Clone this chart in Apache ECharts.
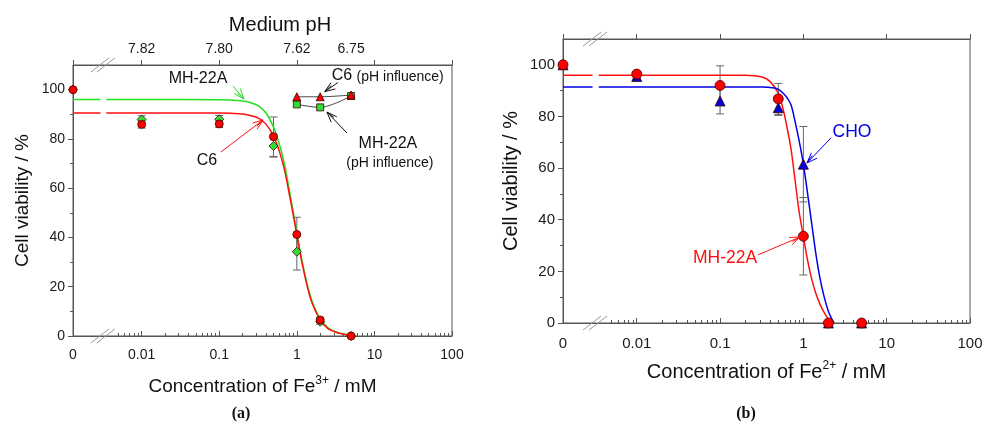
<!DOCTYPE html>
<html><head><meta charset="utf-8">
<script src="https://cdn.jsdelivr.net/npm/echarts@6/dist/echarts.min.js"></script>
<style>html,body{margin:0;padding:0;background:#fff}#c{width:991px;height:427px}</style>
</head><body><div id="c"></div>
<script>
// ---------------- data ----------------
const conc = [0, 0.01, 0.1, 0.5, 1, 2, 5];
// panel (a): Fe3+
const c6Fe3 = [100, 85.9, 86.1, 80.9, 41.2, 6.5, 0];
const c6Fe3Sd = [0, 1.5, 1.5, 8, 7, 1, 0.5];
const mhFe3 = [100, 87.9, 88.0, 77.1, 34.2, 5.8, 0];
const mhFe3Sd = [0, 1.5, 1.5, 4.5, 7.4, 1, 0.5];
const phConc = [1, 2, 5];
const c6Ph = [97.1, 97.1, 97.8];
const mhPh = [94.0, 92.8, 97.4];
// fitted curves
const fitConcA = [0.0035, 0.01, 0.1, 0.2, 0.25, 0.32, 0.4, 0.5, 0.56, 0.63, 0.71, 0.79, 0.89, 1, 1.12, 1.26, 1.41, 1.58, 2, 2.5, 3.2, 4, 5];
const fitC6A = [90.5, 90.5, 90.5, 90.1, 89.5, 88.4, 86.0, 81.3, 77.4, 72.4, 66.0, 58.4, 49.9, 41.0, 32.4, 24.7, 18.3, 13.2, 6.5, 3.1, 1.5, 0.7, 0.3];
const fitMhA = [96, 96, 95.9, 95.4, 94.8, 93.4, 90.5, 84.9, 80.6, 75.1, 68.2, 60.1, 51.2, 42.1, 33.4, 25.6, 19.1, 13.9, 7.0, 3.4, 1.6, 0.8, 0.4];
// panel (b): Fe2+
const mhFe2 = [100, 96.4, 92.0, 86.8, 33.6, 0, 0];
const mhFe2Sd = [0, 1, 7.6, 6, 15, 0.5, 0.8];
const choFe2 = [100, 95.5, 86.0, 83.4, 61.5, 0, 0];
const choFe2Sd = [0, 1, 5, 3, 14.6, 0.5, 0.5];
const fitConcMhB = [0.0035, 0.01, 0.1, 0.2, 0.32, 0.4, 0.5, 0.56, 0.63, 0.71, 0.79, 0.89, 1, 1.12, 1.26, 1.41, 1.58, 1.78, 2, 2.14];
const fitMhB = [96, 96, 96, 96, 95.3, 93.5, 89, 84, 76.5, 67.5, 56, 43, 33.5, 24.5, 17, 11.5, 7.3, 4, 1.4, 0];
const fitConcChoB = [0.0035, 0.01, 0.1, 0.32, 0.45, 0.5, 0.56, 0.63, 0.71, 0.79, 0.89, 1, 1.12, 1.26, 1.41, 1.58, 1.78, 2, 2.24, 2.34];
const fitChoB = [91.4, 91.4, 91.4, 91.4, 91, 90.5, 89.3, 87.5, 84.5, 78.5, 70.5, 61.5, 50.5, 38.5, 27, 17.5, 10, 4.5, 1, 0];
// ticks
const xTickConc = [0, 0.01, 0.1, 1, 10, 100];
const xTickLabels = ['0', '0.01', '0.1', '1', '10', '100'];
const phTickConc = [0.01, 0.1, 1, 5];
const phTickLabels = ['7.82', '7.80', '7.62', '6.75'];
const yTicks = [0, 20, 40, 60, 80, 100];
const yMinorTicks = [10, 30, 50, 70, 90];

// ---------------- helpers ----------------
const X0 = -2.885;            // axis position used for concentration 0
const BREAK_X = -2.5;         // axis break position
const GAP = [-2.53, -2.46];
const FONT = "'Liberation Sans', Arial, sans-serif";
const lg = c => c === 0 ? X0 : Math.log10(c);
const near = (a, b) => Math.abs(a - b) < 1e-6;
const minorConc = [];
for (let d = -3; d <= 1; d++) for (let k = 2; k <= 9; k++) {
  const v = k * Math.pow(10, d); if (v >= 0.005 && v < 100) minorConc.push(v);
}
function curve(cs, vs) {
  const top = vs[0];
  const arr = [[X0, top], [GAP[0], top], [BREAK_X, '-']];
  cs.forEach((c, i) => arr.push([lg(c), vs[i]]));
  return arr;
}
function pts(cs, vs) { return cs.map((c, i) => [lg(c), vs[i]]); }
function errData(cs, vs, sd) {
  return cs.map((c, i) => [lg(c), vs[i] - sd[i], vs[i] + sd[i]]).filter((d, i) => sd[i] > 0);
}
function errSeries(xi, yi, data) {
  return {
    type: 'custom', xAxisIndex: xi, yAxisIndex: yi, z: 1, silent: true,
    encode: { x: 0, y: [1, 2] }, data: data,
    renderItem: function (params, api) {
      const x = api.value(0);
      const a = api.coord([x, api.value(1)]), b = api.coord([x, api.value(2)]);
      const w = 4, st = { stroke: '#666', lineWidth: 1 };
      return { type: 'group', children: [
        { type: 'line', shape: { x1: a[0], y1: a[1], x2: b[0], y2: b[1] }, style: st },
        { type: 'line', shape: { x1: a[0] - w, y1: a[1], x2: a[0] + w, y2: a[1] }, style: st },
        { type: 'line', shape: { x1: b[0] - w, y1: b[1], x2: b[0] + w, y2: b[1] }, style: st }
      ] };
    }
  };
}
const axisCol = '#555';
function xMajor(grid, fs, margin, name, nameGap, nameSize) {
  return {
    type: 'value', gridIndex: grid, position: 'bottom', min: X0, max: 2,
    axisLine: { show: true, onZero: false, lineStyle: { color: axisCol } },
    axisTick: { show: true, inside: true, length: 5, lineStyle: { color: axisCol }, customValues: xTickConc.map(lg) },
    axisLabel: { show: true, color: '#1a1a1a', fontSize: fs, fontFamily: FONT, margin: margin, showMinLabel: true, showMaxLabel: true,
      customValues: xTickConc.map(lg),
      formatter: v => { const i = xTickConc.findIndex(c => near(lg(c), v)); return i >= 0 ? xTickLabels[i] : ''; } },
    splitLine: { show: false },
    name: name, nameLocation: 'middle', nameGap: nameGap,
    nameTextStyle: { color: '#111', fontSize: nameSize, fontFamily: FONT, lineHeight: 24,
      rich: { sup: { fontSize: Math.round(nameSize * 0.62), fontFamily: FONT, color: '#111', verticalAlign: 'top', lineHeight: 14 } } }
  };
}
function xMinor(grid) {
  return {
    type: 'value', gridIndex: grid, position: 'bottom', min: X0, max: 2,
    axisLine: { show: false, onZero: false },
    axisTick: { show: true, inside: true, length: 3, lineStyle: { color: axisCol }, customValues: minorConc.map(lg) },
    axisLabel: { show: false }, splitLine: { show: false }
  };
}
function xTop(grid, withLabels) {
  return {
    type: 'value', gridIndex: grid, position: 'top', min: X0, max: 2,
    axisLine: { show: true, onZero: false, lineStyle: { color: axisCol } },
    axisTick: { show: true, inside: false, length: 5, lineStyle: { color: axisCol }, customValues: xTickConc.map(lg) },
    axisLabel: withLabels ? { show: true, color: '#1a1a1a', fontSize: 14, fontFamily: FONT, margin: 9,
      customValues: phTickConc.map(lg),
      formatter: v => { const i = phTickConc.findIndex(c => near(lg(c), v)); return i >= 0 ? phTickLabels[i] : ''; } } : { show: false },
    splitLine: { show: false }
  };
}
function yMajor(grid, fs, nameSize, nameGap) {
  return {
    type: 'value', gridIndex: grid, position: 'left', min: 0, max: 110,
    axisLine: { show: true, onZero: false, lineStyle: { color: axisCol } },
    axisTick: { show: true, inside: false, length: 5, lineStyle: { color: axisCol }, customValues: yTicks },
    axisLabel: { show: true, color: '#1a1a1a', fontSize: fs, fontFamily: FONT, margin: 8, customValues: yTicks },
    splitLine: { show: false },
    name: 'Cell viability / %', nameLocation: 'middle', nameGap: nameGap, nameRotate: 90,
    nameTextStyle: { color: '#111', fontSize: nameSize, fontFamily: FONT }
  };
}
function yMinor(grid) {
  return {
    type: 'value', gridIndex: grid, position: 'left', min: 0, max: 110,
    axisLine: { show: false, onZero: false },
    axisTick: { show: true, inside: false, length: 3, lineStyle: { color: axisCol }, customValues: yMinorTicks },
    axisLabel: { show: false }, splitLine: { show: false }
  };
}
const RED = '#ff1010', GREEN = '#22e022', BLUE = '#0000e6';
function curveSeries(xi, yi, data, color) {
  return { type: 'line', xAxisIndex: xi, yAxisIndex: yi, data: data, showSymbol: false, symbol: 'none',
    smooth: 0.3, connectNulls: false, z: 2,
    lineStyle: { color: color, width: 1.5 }, silent: true };
}
function scat(xi, yi, data, symbol, size, color, z) {
  return { type: 'scatter', xAxisIndex: xi, yAxisIndex: yi, data: data, symbol: symbol, symbolSize: size, z: z || 3,
    itemStyle: { color: color, borderColor: '#400', borderWidth: 0.8, opacity: 1 }, silent: true };
}
function phLine(data, symbol, size, color) {
  return { type: 'line', xAxisIndex: 0, yAxisIndex: 0, data: data, symbol: symbol, symbolSize: size, showSymbol: true,
    smooth: 0.3, lineStyle: { color: '#444', width: 1 }, itemStyle: { color: color, borderColor: '#300', borderWidth: 0.8 }, z: 3, silent: true };
}

const chart = echarts.init(document.getElementById('c'), null, { renderer: 'canvas' });
chart.setOption({
  backgroundColor: '#fff',
  animation: false,
  title: { text: 'Medium pH', left: 275, top: 10, textAlign: 'center',
    textStyle: { fontSize: 20, fontWeight: 'normal', color: '#111', fontFamily: FONT } },
  grid: [
    { left: 73, top: 65, width: 379, height: 271, show: true, borderColor: axisCol, borderWidth: 1, backgroundColor: 'transparent' },
    { left: 563, top: 39, width: 407, height: 284, show: true, borderColor: axisCol, borderWidth: 1, backgroundColor: 'transparent' }
  ],
  xAxis: [
    xMajor(0, 14, 12, 'Concentration of Fe{sup|3+} / mM', 39, 19),
    xMinor(0),
    xTop(0, true),
    xMajor(1, 15, 13, 'Concentration of Fe{sup|2+} / mM', 37, 20),
    xMinor(1),
    xTop(1, false)
  ],
  yAxis: [yMajor(0, 14, 19, 41), yMinor(0), yMajor(1, 15, 20, 42), yMinor(1)],
  series: [
    errSeries(0, 0, errData(conc, c6Fe3, c6Fe3Sd).concat(errData(conc, mhFe3, mhFe3Sd))),
    curveSeries(0, 0, curve(fitConcA, fitMhA), GREEN),
    curveSeries(0, 0, curve(fitConcA, fitC6A), RED),
    scat(0, 0, pts(conc, mhFe3), 'diamond', 9, '#33dd33', 3),
    scat(0, 0, pts(conc, c6Fe3), 'circle', 8, '#ff0000', 4),
    phLine(pts(phConc, mhPh), 'rect', 7, '#33dd33'),
    phLine(pts(phConc, c6Ph), 'triangle', 8, '#ff0000'),
    errSeries(3, 2, errData(conc, mhFe2, mhFe2Sd).concat(errData(conc, choFe2, choFe2Sd))),
    curveSeries(3, 2, curve(fitConcMhB, fitMhB), RED),
    curveSeries(3, 2, curve(fitConcChoB, fitChoB), BLUE),
    scat(3, 2, pts(conc, choFe2), 'triangle', 10, '#0000dd', 3),
    scat(3, 2, pts(conc, mhFe2), 'circle', 10, '#ff0000', 4)
  ]
});

// ---------------- annotations ----------------
const A = { xAxisIndex: 0, yAxisIndex: 0 }, B = { xAxisIndex: 3, yAxisIndex: 2 };
const px = (f, p) => chart.convertToPixel(f, p);
function txt(f, p, text, color, size, align) {
  const q = px(f, p);
  return { type: 'text', x: q[0], y: q[1], z: 10, silent: true,
    style: { text: text, fill: color, fontSize: size, fontFamily: FONT, align: align || 'center', verticalAlign: 'middle' } };
}
function arrow(f, p1, p2, color) {
  const a = px(f, p1), b = px(f, p2);
  const ang = Math.atan2(b[1] - a[1], b[0] - a[0]), L = 11, s = 0.36;
  const b1 = [b[0] - L * Math.cos(ang - s), b[1] - L * Math.sin(ang - s)];
  const b2 = [b[0] - L * Math.cos(ang + s), b[1] - L * Math.sin(ang + s)];
  const b3 = [b[0] - L * 0.8 * Math.cos(ang - s * 0.4), b[1] - L * 0.8 * Math.sin(ang - s * 0.4)];
  const st = { stroke: color, lineWidth: 1, fill: null };
  return [
    { type: 'line', z: 10, silent: true, shape: { x1: a[0], y1: a[1], x2: b[0], y2: b[1] }, style: st },
    { type: 'polyline', z: 10, silent: true, shape: { points: [b1, b, b2] }, style: st },
    { type: 'line', z: 10, silent: true, shape: { x1: b3[0], y1: b3[1], x2: b[0], y2: b[1] }, style: st }
  ];
}
function breakMark(f, yv) {
  const c = px(f, [BREAK_X, yv]);
  const out = [];
  [-3, 3].forEach(dx => out.push({ type: 'line', z: 10, silent: true,
    shape: { x1: c[0] + dx - 9, y1: c[1] + 7, x2: c[0] + dx + 9, y2: c[1] - 7 },
    style: { stroke: '#999', lineWidth: 1 } }));
  return out;
}
const g = [];
g.push(txt(A, [-1.274, 104.3], 'MH-22A', '#111', 16));
g.push(...arrow(A, [-0.823, 101.5], [-0.681, 96.2], GREEN));
g.push(txt(A, [-1.158, 71.4], 'C6', '#111', 16));
g.push(...arrow(A, [-0.978, 74.7], [-0.436, 87.7], RED));
g.push(txt(A, [0.449, 105.5], 'C6', '#111', 16, 'left'));
g.push(txt(A, [0.77, 105.2], '(pH influence)', '#111', 14, 'left'));
g.push(...arrow(A, [0.53, 102.9], [0.36, 99.2], '#111'));
g.push(txt(A, [1.174, 78.3], 'MH-22A', '#111', 16));
g.push(txt(A, [1.2, 70.2], '(pH influence)', '#111', 14));
g.push(...arrow(A, [0.646, 82.4], [0.388, 90.9], '#111'));
g.push(txt(B, [0.584, 74.0], 'CHO', BLUE, 17.5));
g.push(...arrow(B, [0.332, 71.7], [0.044, 62.0], BLUE));
g.push(txt(B, [-0.94, 25.2], 'MH-22A', RED, 17.5));
g.push(...arrow(B, [-0.544, 26.4], [-0.04, 33.3], RED));
g.push(...breakMark(A, 0), ...breakMark(A, 110), ...breakMark(B, 0), ...breakMark(B, 110));
const capStyle = { fill: '#111', fontSize: 16, fontWeight: 'bold', fontFamily: "'Liberation Serif', 'DejaVu Serif', serif", align: 'center', verticalAlign: 'middle' };
g.push({ type: 'text', x: 241, y: 414, silent: true, style: Object.assign({ text: '(a)' }, capStyle) });
g.push({ type: 'text', x: 746, y: 414, silent: true, style: Object.assign({ text: '(b)' }, capStyle) });
chart.setOption({ graphic: g });
</script>
</body></html>
